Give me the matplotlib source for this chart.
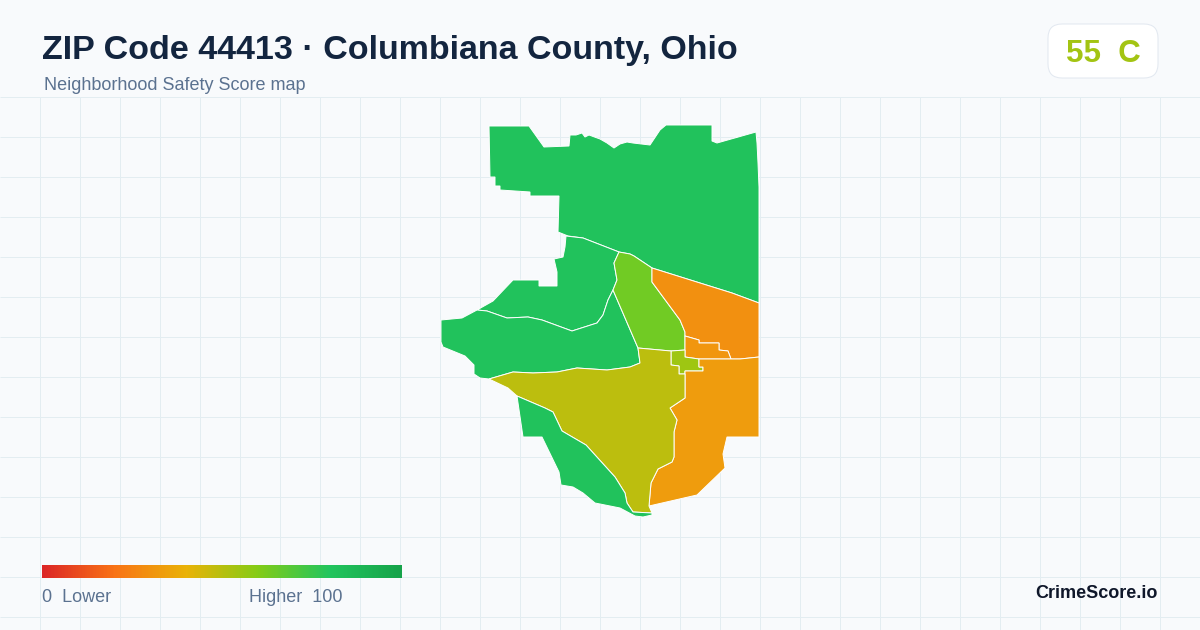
import matplotlib
matplotlib.use('Agg')
import matplotlib.pyplot as plt
import numpy as np
from matplotlib.colors import LinearSegmentedColormap
from matplotlib.patches import FancyBboxPatch

plt.rcParams['font.family'] = ['Liberation Sans', 'DejaVu Sans']

# Map outlines in pixel units
north = [(489,126),(529,126),(544,147),(569,146),(570,135),(576,135),(582,133),(585,137),(589,135),(600,139),
         (607,143),(614,148),(620,144),(627,142),(633,143),(650,145),(660,130),(666,125),(712,125),(712,141),
         (717,143),(756,132),(757,143),(758,163),(759,187),(759,303),(732,293),(652,268),(634,256),(630,254),
         (619,252),(583,238),(568,236),(558,232),(559,196),(530,196),(530,192),(500,190),(500,186),(495,186),
         (495,177),(490,177)]
northwest = [(566,236),(583,238),(619,252),(614,263),(617,280),(613,290),(608,300),(603,315),(597,323),(572,331),
             (542,320),(528,317),(507,318),(487,311),(477,310),(493,301),(513,280),(539,280),(539,286),(557,286),
             (557,272),(554,259),(563,257),(565,247)]
west = [(477,310),(487,311),(507,318),(528,317),(542,320),(572,331),(597,323),(603,315),(608,300),(613,290),
        (638,348),(640,363),(630,367),(607,370),(577,368),(557,372),(533,373),(513,372),(489,379),(480,378),
        (474,374),(474,365),(465,356),(443,347),(441,342),(441,320),(462,318)]
center = [(619,252),(630,254),(634,256),(652,268),(652,282),(680,320),(685,332),(685,350),(671,351),(638,348),
          (613,290),(617,280),(614,263)]
east = [(652,268),(732,293),(759,303),(759,357),(740,359),(731,359),(728,351),(719,350),(719,343),(699,343),
        (699,340),(685,336),(685,332),(680,320),(652,282)]
pocket = [(685,336),(699,340),(699,343),(719,343),(719,350),(728,351),(731,359),(699,359),(685,357)]
notch = [(685,350),(671,351),(671,365),(679,366),(679,374),(685,374),(685,371),(703,371),(703,367),(699,367),
         (699,359),(685,357)]
southeast = [(759,357),(740,359),(731,359),(699,359),(699,367),(703,367),(703,371),(685,371),(685,398),(670,408),
             (677,420),(674,432),(674,457),(672,462),(658,469),(651,483),(649,506),(697,495),(725,468),(723,454),
             (727,437),(759,437)]
south = [(638,348),(671,351),(671,365),(679,366),(679,374),(685,374),(685,398),(670,408),(677,420),(674,432),
         (674,457),(672,462),(658,469),(651,483),(649,506),(652,513),(633,512),(627,503),(625,493),(615,477),
         (586,445),(562,431),(553,412),(545,408),(517,396),(508,388),(489,379),(513,372),(533,373),(557,372),
         (577,368),(607,370),(630,367),(640,363)]
southwest = [(517,396),(545,408),(553,412),(562,431),(586,445),(615,477),(625,493),(627,503),(633,512),(652,513),
             (652,515),(643,517),(635,516),(620,508),(600,504),(595,503),(583,493),(573,487),(561,485),(559,472),
             (542,437),(523,437)]

areas = [north, northwest, west, center, east, pocket, notch, southeast, south, southwest]
scores = [82, 82, 82, 64, 29, 31, 55, 33, 49, 82]

score_stops = [0, 0.2, 0.4, 0.6, 0.8, 1]
stop_colors = ['#dc2626', '#f97316', '#eab308', '#84cc16', '#22c55e', '#16a34a']
cmap = LinearSegmentedColormap.from_list('safety', list(zip(score_stops, stop_colors)))

fig = plt.figure(figsize=(12, 6.3), dpi=100, facecolor='#f8fafc')
ax = fig.add_axes([0, 0, 1, 1])
ax.set_xlim(0, 1200)
ax.set_ylim(630, 0)
ax.axis('off')

# background grid
ax.vlines(np.arange(40, 1200, 40), 97, 630, color='#e3edf1', lw=0.72, zorder=1)
ax.hlines(np.arange(96.5, 630, 40), 0, 1200, color='#e3edf1', lw=0.72, zorder=1)

for area, score in zip(areas, scores):
    xs, ys = zip(*area)
    ax.fill(xs, ys, facecolor=cmap(score / 100), edgecolor='white', lw=0.7, zorder=2)

# title block
ax.text(42, 50, 'ZIP Code 44413 · Columbiana County, Ohio', fontsize=24.5, fontweight='bold',
        color='#13253f', va='center', ha='left')
ax.text(44, 85.5, 'Neighborhood Safety Score map', fontsize=12.95, color='#5b7290', va='center', ha='left')

# grade badge
badge = FancyBboxPatch((1062, 38), 82, 26, boxstyle='round,pad=14,rounding_size=14',
                       facecolor='white', edgecolor='#e2e8f0', lw=0.72, zorder=3)
ax.add_patch(badge)
ax.text(1103, 53.5, '55  C', fontsize=22.5, fontweight='bold', color='#a3c413', va='center', ha='center', zorder=4)

# legend bar
ax.imshow(np.linspace(0, 1, 360).reshape(1, -1), cmap=cmap, extent=(42, 402, 578, 565), aspect='auto', zorder=3)
ax.set_xlim(0, 1200)
ax.set_ylim(630, 0)
ax.text(42, 597.5, '0  Lower', fontsize=12.95, color='#5b7290', va='center', ha='left')
ax.text(249, 597.5, 'Higher  100', fontsize=12.95, color='#5b7290', va='center', ha='left')

ax.text(1158, 594, 'CrimeScore.io', fontsize=13, fontweight='bold', color='#0f172a', va='center', ha='right')

fig.savefig('out.png', dpi=100, facecolor=fig.get_facecolor())
